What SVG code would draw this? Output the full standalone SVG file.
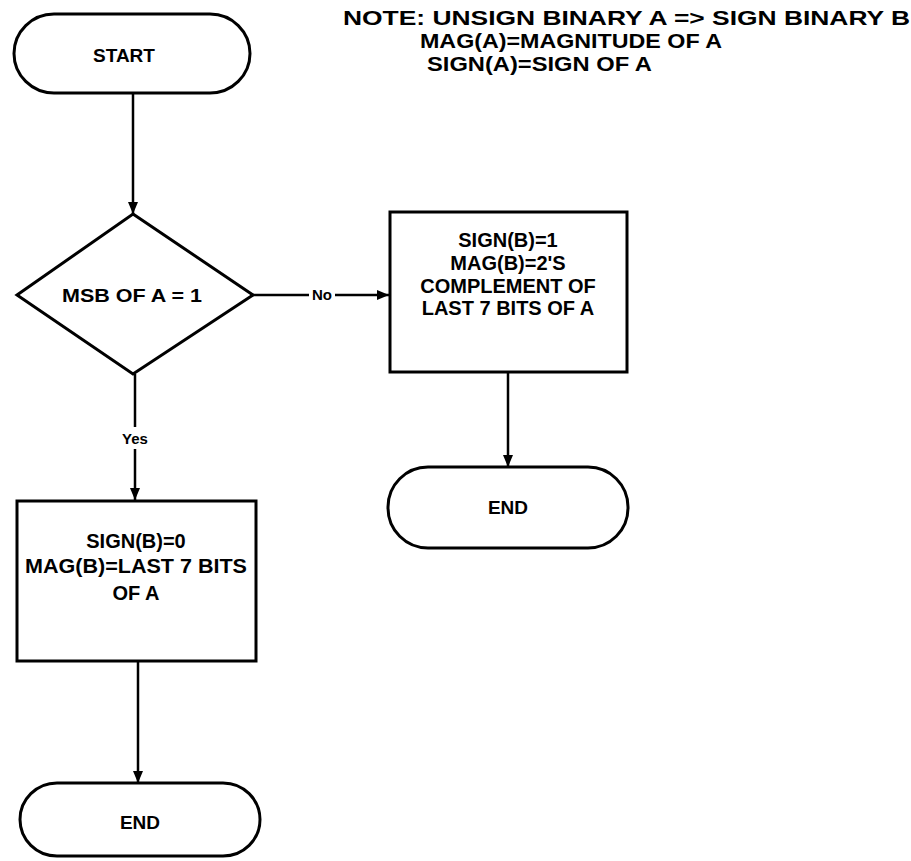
<svg xmlns="http://www.w3.org/2000/svg" width="911" height="861" viewBox="0 0 911 861">
<style>
.shape{fill:#fff;stroke:#000;stroke-width:3}
.conn{fill:none;stroke:#000;stroke-width:2.5}
text{font-family:"Liberation Sans",Arial,sans-serif;font-weight:bold;fill:#000}
.t{font-size:19px;text-anchor:middle}
.b{font-size:20px;text-anchor:middle}
.lbl{font-size:15px;text-anchor:middle}
.note{font-size:21px}
</style>
<defs>
<marker id="arr" viewBox="0 0 12 10" refX="12" refY="5" markerWidth="12" markerHeight="10" markerUnits="userSpaceOnUse" orient="auto">
<path d="M0,0 L12,5 L0,10 z" fill="#000"/>
</marker>
</defs>
<g id="note">
<text class="note" x="343" y="25" textLength="567" lengthAdjust="spacingAndGlyphs">NOTE: UNSIGN BINARY A =&gt; SIGN BINARY B</text>
<text class="note" x="420" y="48" textLength="302" lengthAdjust="spacingAndGlyphs">MAG(A)=MAGNITUDE OF A</text>
<text class="note" x="427" y="71" textLength="225" lengthAdjust="spacingAndGlyphs">SIGN(A)=SIGN OF A</text>
</g>
<g id="connectors">
<line class="conn" x1="133" y1="93" x2="133" y2="214" marker-end="url(#arr)"/>
<line class="conn" x1="253" y1="295" x2="389" y2="295" marker-end="url(#arr)"/>
<line class="conn" x1="135" y1="374" x2="135" y2="500" marker-end="url(#arr)"/>
<line class="conn" x1="508" y1="372" x2="508" y2="467" marker-end="url(#arr)"/>
<line class="conn" x1="138" y1="661" x2="138" y2="783" marker-end="url(#arr)"/>
<rect x="309" y="286" width="26" height="18" fill="#fff"/>
<text class="lbl" x="322" y="300">No</text>
<rect x="116" y="427" width="38" height="22" fill="#fff"/>
<text class="lbl" x="135" y="444">Yes</text>
</g>
<g id="start">
<rect class="shape" x="14" y="14" width="236" height="79" rx="40" ry="40"/>
<text class="t" x="124" y="62">START</text>
</g>
<g id="decision">
<polygon class="shape" points="133,214 253,295 133,374 17,295"/>
<text class="t" x="132" y="302" textLength="140" lengthAdjust="spacingAndGlyphs">MSB OF A = 1</text>
</g>
<g id="negative">
<rect class="shape" x="390" y="212" width="237" height="160"/>
<text class="b" x="508" y="247">SIGN(B)=1</text>
<text class="b" x="508" y="270">MAG(B)=2'S</text>
<text class="b" x="508" y="293">COMPLEMENT OF</text>
<text class="b" x="508" y="315">LAST 7 BITS OF A</text>
</g>
<g id="endRight">
<rect class="shape" x="388" y="467" width="240" height="81" rx="40" ry="40"/>
<text class="t" x="508" y="514">END</text>
</g>
<g id="positive">
<rect class="shape" x="17" y="501" width="239" height="160"/>
<text class="b" x="136" y="548">SIGN(B)=0</text>
<text class="b" x="136" y="573" textLength="222" lengthAdjust="spacingAndGlyphs">MAG(B)=LAST 7 BITS</text>
<text class="b" x="136" y="600">OF A</text>
</g>
<g id="endLeft">
<rect class="shape" x="20" y="783" width="240" height="73" rx="37" ry="37"/>
<text class="t" x="140" y="829">END</text>
</g>
</svg>
